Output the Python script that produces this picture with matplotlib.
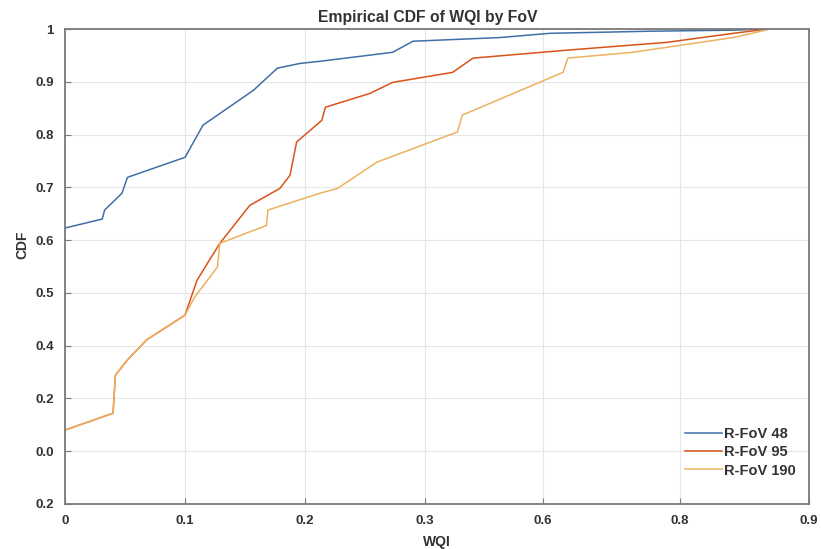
import matplotlib
matplotlib.use("Agg")
import matplotlib.pyplot as plt

# curves (axis units, x: 0.1 per major tick spacing)
fov48_x = [0, 0.031, 0.033, 0.0475, 0.052, 0.100, 0.115, 0.157, 0.177, 0.196, 0.2125,
           0.273, 0.290, 0.3625, 0.404, 0.4875, 0.557, 0.582]
fov48_y = [0.623, 0.640, 0.657, 0.689, 0.719, 0.757, 0.818, 0.884, 0.926, 0.935, 0.939,
           0.956, 0.977, 0.984, 0.992, 0.996, 0.998, 1.0]

fov95_x = [0, 0.040, 0.042, 0.052, 0.068, 0.100, 0.110, 0.129, 0.154, 0.179, 0.1875,
           0.193, 0.214, 0.217, 0.254, 0.273, 0.323, 0.340, 0.418, 0.502, 0.557, 0.585]
fov95_y = [0.240, 0.272, 0.344, 0.373, 0.411, 0.458, 0.524, 0.594, 0.666, 0.698, 0.723,
           0.786, 0.827, 0.852, 0.878, 0.899, 0.918, 0.945, 0.960, 0.975, 0.992, 1.0]

fov190_x = [0, 0.040, 0.042, 0.052, 0.068, 0.100, 0.108, 0.127, 0.129, 0.168, 0.169,
            0.2125, 0.227, 0.260, 0.327, 0.331, 0.415, 0.419, 0.473, 0.557, 0.5875]
fov190_y = [0.240, 0.272, 0.344, 0.373, 0.411, 0.458, 0.492, 0.549, 0.594, 0.628, 0.657,
            0.689, 0.698, 0.748, 0.805, 0.837, 0.918, 0.945, 0.956, 0.984, 1.0]

series_labels = ["R-FoV 48", "R-FoV 95", "R-FoV 190"]

# tick labels exactly as printed on the reference
x_tick_pos = [0, 0.1, 0.2, 0.3, 0.398, 0.5125, 0.62]
x_tick_labels = ["0", "0.1", "0.2", "0.3", "0.6", "0.8", "0.9"]
y_tick_pos = [1.0, 0.9, 0.8, 0.7, 0.6, 0.5, 0.4, 0.3, 0.2, 0.1]
y_tick_labels = ["1", "0.9", "0.8", "0.7", "0.6", "0.5", "0.4", "0.2", "0.0", "0.2"]

plt.rcParams['font.family'] = ['Liberation Sans', 'DejaVu Sans']

fig = plt.figure(figsize=(8.21, 5.49), dpi=100)
ax = fig.add_axes([0.0792, 0.082, 0.9062, 0.865])

colors = ["#3f6fa6", "#d95319", "#edb160"]
ax.plot(fov48_x, fov48_y, color=colors[0], lw=1.1, label=series_labels[0])
ax.plot(fov95_x, fov95_y, color=colors[1], lw=1.1, label=series_labels[1])
ax.plot(fov190_x, fov190_y, color=colors[2], lw=1.1, label=series_labels[2])

ax.set_xlim(0, 0.62)
ax.set_ylim(0.1, 1.0)
ax.set_xticks(x_tick_pos)
ax.set_xticklabels(x_tick_labels)
ax.set_yticks(y_tick_pos)
ax.set_yticklabels(y_tick_labels)

ax.grid(True, color="#e6e6e6", lw=0.8)
ax.set_axisbelow(True)
for s in ax.spines.values():
    s.set_color("#7a7a7a")
    s.set_linewidth(1.3)
ax.tick_params(direction="in", length=4, width=0.8, color="#7a7a7a",
               labelsize=9.5, labelcolor="#333333", pad=8)
for t in ax.get_xticklabels() + ax.get_yticklabels():
    t.set_fontweight("bold")

ax.set_title("Empirical CDF of WQI by FoV", fontsize=11.3, fontweight="bold",
             color="#333333", pad=5, x=0.488)
ax.set_xlabel("WQI", fontsize=10, fontweight="bold", color="#333333", labelpad=6)
ax.set_ylabel("CDF", fontsize=10, fontweight="bold", color="#333333")
ax.yaxis.set_label_coords(-0.048, 0.545)

leg = ax.legend(loc="lower right", frameon=False, fontsize=10.5, handlelength=2.5,
                handletextpad=0.15, labelspacing=0.3, bbox_to_anchor=(1.0, 0.028))
for t in leg.get_texts():
    t.set_fontweight("bold")
    t.set_color("#333333")

fig.savefig("out.png", dpi=100)
